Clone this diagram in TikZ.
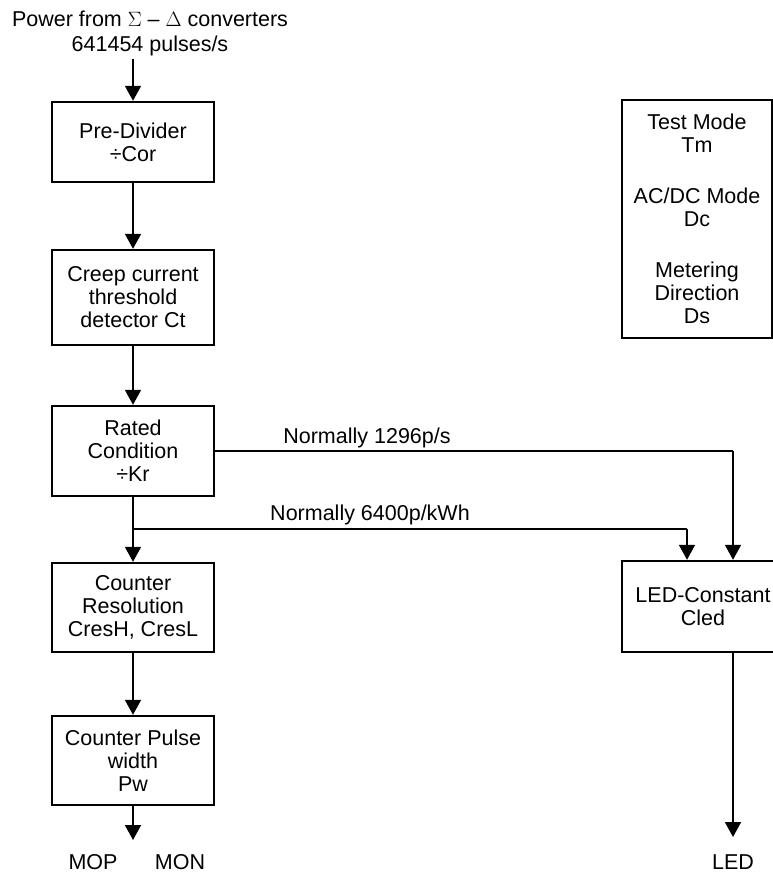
\documentclass[tikz,border=0pt]{standalone}
\usepackage{fontspec}
\setmainfont{Liberation Sans}
\usetikzlibrary{arrows.meta}

\begin{document}
\begin{tikzpicture}[x=1pt,y=-1pt,
    every node/.style={font=\fontsize{21.5}{23}\selectfont,align=center},
    box/.style={draw,line width=2.4pt,minimum width=162pt,inner sep=0pt},
    flow/.style={line width=1.8pt,-{Triangle[width=16pt,length=15pt]}},
    feed/.style={line width=1.1pt}]
    \useasboundingbox (0,0) rectangle (772,874);
    % input
    \node (src) at (150,33) {Power from $\Sigma$ -- $\Delta$ converters\\[2pt]641454 pulses/s};
    \coordinate (in) at (133,59);
    % main chain
    \node[box,minimum height=80pt] (pre) at (133,142) {Pre-Divider\\÷Cor};
    \node[box,minimum height=95pt] (creep) at (133,297.5) {Creep current\\threshold\\detector Ct};
    \node[box,minimum height=90pt] (rated) at (133,451) {Rated\\Condition\\÷Kr};
    \node[box,minimum height=89pt] (cres) at (133,607.5) {Counter\\Resolution\\CresH, CresL};
    \node[box,minimum height=89pt] (pw) at (133,760.5) {Counter Pulse\\width\\Pw};
    % settings and led
    \node[box,minimum width=150pt,minimum height=238pt] (mode) at (697,219)
        {Test Mode\\Tm\\[28pt]AC/DC Mode\\Dc\\[28pt]Metering\\Direction\\Ds};
    \node[box,minimum height=91pt] (led) at (703,606.5) {LED-Constant\\Cled};
    % outputs
    \coordinate (mopout) at (133,840);
    \node (mop) at (93,862) {MOP};
    \node (mon) at (180,862) {MON};
    \coordinate (ledout) at (733,837);
    \node (ledtxt) at (733,862) {LED};
    % branch points
    \coordinate (k1) at (733,451);
    \coordinate (split) at (133,529);
    \coordinate (k2) at (687,529);

    \draw[flow] (in) -- (pre);
    \draw[flow] (pre) -- (creep);
    \draw[flow] (creep) -- (rated);
    \draw[flow] (rated) -- (cres);
    \draw[flow] (cres) -- (pw);
    \draw[flow] (pw) -- (mopout);
    \draw[feed] (rated.east) -- (k1);
    \draw[flow] (k1) -- (k1 |- led.north);
    \draw[feed] (split) -- (k2);
    \draw[flow] (k2) -- (k2 |- led.north);
    \draw[flow] (led.south -| ledout) -- (ledout);
    \node (l1) at (367,438) {Normally 1296p/s};
    \node (l2) at (370,515) {Normally 6400p/kWh};
\end{tikzpicture}
\end{document}
